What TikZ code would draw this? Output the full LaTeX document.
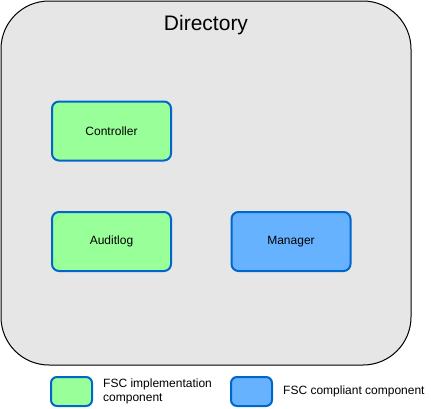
\documentclass[tikz,border=0pt]{standalone}
\usepackage{fontspec}
\setmainfont{Liberation Sans}
\definecolor{dirgray}{HTML}{E6E6E6}
\definecolor{implgreen}{HTML}{99FF99}
\definecolor{compblue}{HTML}{66B2FF}
\definecolor{edgeblue}{HTML}{0066CC}
\begin{document}
\begin{tikzpicture}[x=1pt, y=-1pt,
  dir/.style = {draw, fill=dirgray, rounded corners=48pt, line width=1pt},
  comp/.style = {draw=edgeblue, line width=2pt, rounded corners=7pt, minimum width=119pt, minimum height=59pt, inner sep=0pt, font=\fontsize{12}{14}\selectfont},
  impl/.style = {comp, fill=implgreen},
  compl/.style = {comp, fill=compblue},
  key/.style = {draw=edgeblue, line width=2pt, rounded corners=6pt, minimum width=41pt, minimum height=29pt, inner sep=0pt},
  keytext/.style = {anchor=west, align=left, inner sep=0pt, font=\fontsize{12}{14}\selectfont}]
  \useasboundingbox (0,0) rectangle (431,408);
  \draw[dir] (1,1) rectangle (411,365);
  \node[font=\fontsize{21}{24}\selectfont] (title) at (206,25) {Directory};
  \node[impl] (controller) at (111.5,131) {Controller};
  \node[impl] (auditlog) at (111.5,241.5) {Auditlog};
  \node[compl] (manager) at (291,241.5) {Manager};
  % legend
  \node[key, fill=implgreen] (keyimpl) at (71.5,391.5) {};
  \node[keytext] (implabel) at (103,391.5) {FSC implementation\\component};
  \node[key, fill=compblue] (keycompl) at (251.5,391.5) {};
  \node[keytext] (compllabel) at (283,391.5) {FSC compliant component};
\end{tikzpicture}
\end{document}
